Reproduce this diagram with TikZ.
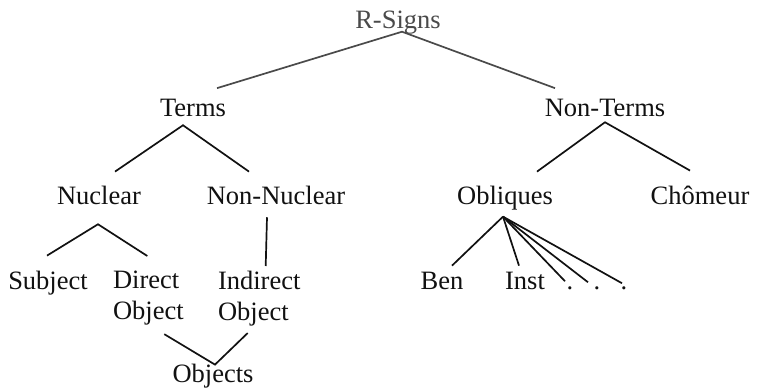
\documentclass[tikz,border=0pt]{standalone}
\usepackage{fontspec}
\setmainfont{Liberation Serif}
\usetikzlibrary{calc}
\definecolor{ink}{HTML}{111111}
\definecolor{greyink}{HTML}{4a4a4a}
\begin{document}
\begin{tikzpicture}[x=1pt,y=1pt,
  lbl/.style={inner sep=0pt,outer sep=0pt,anchor=base,text=ink,font=\fontsize{26.5}{31}\selectfont},
  twoline/.style={lbl,align=left,anchor=north west},
  tree/.style={draw=ink,line width=1.7pt},
  toptree/.style={draw=greyink,line width=1.7pt}]
\useasboundingbox (0,0) rectangle (758,-391);
\node[lbl,text=greyink] (RS) at (398,-28) {R-Signs};
\node[lbl] (Terms) at (193,-116) {Terms};
\node[lbl] (NT) at (605,-116) {Non-Terms};
\node[lbl] (Nuc) at (99,-204) {Nuclear};
\node[lbl] (NN) at (276,-204) {Non-Nuclear};
\node[lbl] (Obl) at (505,-204) {Obliques};
\node[lbl] (Cho) at (700,-204) {Chômeur};
\node[lbl] (Subj) at (48,-289) {Subject};
\node[twoline] (DO) at (113,-271) {Direct\\Object};
\node[twoline] (IO) at (218,-271) {Indirect\\Object};
\node[lbl] (Objs) at (213,-382) {Objects};
\node[lbl] (Ben) at (442,-289) {Ben};
\node[lbl] (Inst) at (525,-289) {Inst};
\node[lbl] (d1) at (570,-289) {.};
\node[lbl] (d2) at (597,-289) {.};
\node[lbl] (d3) at (624,-289) {.};
% R-Signs
\draw[toptree] ([xshift=24pt,yshift=10.5pt]Terms.north) -- ([xshift=4pt,yshift=2pt]RS.south) -- ([xshift=-50pt,yshift=10.5pt]NT.north);
% Terms
\draw[tree] ([xshift=16pt,yshift=14pt]Nuc.north) -- ([xshift=-10pt,yshift=-9pt]Terms.south) -- ([xshift=-27pt,yshift=14pt]NN.north);
% Non-Terms
\draw[tree] ([xshift=32pt,yshift=14pt]Obl.north) -- ([xshift=0pt,yshift=-6pt]NT.south) -- ([xshift=-10pt,yshift=15pt]Cho.north);
% Nuclear
\draw[tree] ([xshift=-1pt,yshift=15pt]Subj.north) -- ([xshift=-1pt,yshift=-20pt]Nuc.south) -- ([xshift=-1pt,yshift=15pt]DO.north);
% Non-Nuclear
\draw[tree] ([xshift=-9pt,yshift=-13pt]NN.south) -- ([xshift=6.5pt,yshift=5pt]IO.north);
% Objects
\draw[tree] ([xshift=16pt,yshift=-9pt]DO.south) -- ([xshift=2pt,yshift=-1pt]Objs.north) -- ([xshift=-11.5pt,yshift=-7pt]IO.south);
% Obliques
\draw[tree] ([xshift=-2pt,yshift=-7pt]Obl.south) -- ([xshift=10pt,yshift=6pt]Ben.north);
\draw[tree] ([xshift=-2pt,yshift=-7pt]Obl.south) -- ([xshift=-6pt,yshift=6pt]Inst.north);
\draw[tree] ([xshift=-2pt,yshift=-7pt]Obl.south) -- ([xshift=-5pt,yshift=5pt]d1.north);
\draw[tree] ([xshift=-2pt,yshift=-7pt]Obl.south) -- ([xshift=-9pt,yshift=4pt]d2.north);
\draw[tree] ([xshift=-2pt,yshift=-7pt]Obl.south) -- ([xshift=-2pt,yshift=3pt]d3.north);
\end{tikzpicture}
\end{document}
